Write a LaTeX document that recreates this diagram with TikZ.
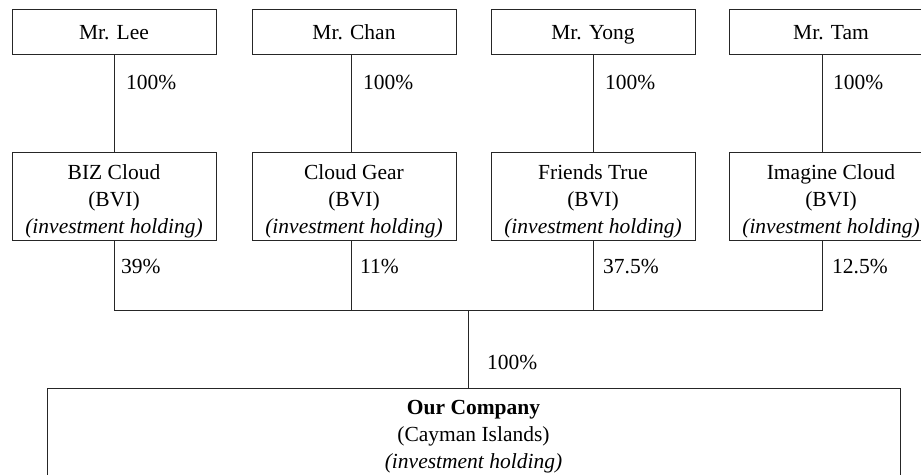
\documentclass[tikz,border=0pt]{standalone}
\usepackage{fontspec}
\setmainfont{Liberation Serif}
\begin{document}
\begin{tikzpicture}[x=1pt,y=-1pt,
  every node/.style={font=\fontsize{21.5}{27}\selectfont},
  box/.style={draw=black!85, line width=0.9pt, minimum width=204pt, inner sep=0pt, align=center},
  topbox/.style={box, minimum height=45pt, text height=20pt, text depth=4pt},
  midbox/.style={box, minimum height=88pt},
  label/.style={inner sep=0pt, align=center},
  link/.style={draw=black!85, line width=0.9pt},
  pct/.style={anchor=west, inner sep=0pt}]
\useasboundingbox (0,0) rectangle (921,474);
\clip (0,0) rectangle (921,474);
% top owners
\node[topbox] (lee)  at (114,31.5) {Mr. Lee};
\node[topbox] (chan) at (354,31.5) {Mr. Chan};
\node[topbox] (yong) at (593,31.5) {Mr. Yong};
\node[topbox] (tam)  at (831,31.5) {Mr. Tam};
% holding companies
\node[midbox] (biz)  at (114,196) {};
\node[midbox] (gear) at (354,196) {};
\node[midbox] (true) at (593,196) {};
\node[midbox] (img)  at (831,196) {};
\node[label] (bizt)  at ([yshift=-5pt]biz.center)  {BIZ Cloud\\(BVI)\\\textit{(investment holding)}};
\node[label] (geart) at ([yshift=-5pt]gear.center) {Cloud Gear\\(BVI)\\\textit{(investment holding)}};
\node[label] (truet) at ([yshift=-5pt]true.center) {Friends True\\(BVI)\\\textit{(investment holding)}};
\node[label] (imgt)  at ([yshift=-5pt]img.center)  {Imagine Cloud\\(BVI)\\\textit{(investment holding)}};
% our company
\node[box, minimum width=853pt, minimum height=90pt] (co) at (473.5,433) {};
\node[label] (cot) at ([yshift=-3.5pt]co.center)
  {\textbf{Our Company}\\(Cayman Islands)\\\textit{(investment holding)}};
% junction
\coordinate (j) at (468,310);
% owner links
\draw[link] (lee.south) -- (biz.north);
\draw[link] ([xshift=-3pt]chan.south) -- ([xshift=-3pt]gear.north);
\draw[link] (yong.south) -- (true.north);
\draw[link] ([xshift=-9pt]tam.south) -- ([xshift=-9pt]img.north);
\node[pct] at (126,82) {100\%};
\node[pct] at (363,82) {100\%};
\node[pct] at (605,82) {100\%};
\node[pct] at (833,82) {100\%};
% links to company
\draw[link] (biz.south) |- (j);
\draw[link] ([xshift=-3pt]gear.south) |- (j);
\draw[link] (true.south) |- (j);
\draw[link] ([xshift=-9pt]img.south) |- (j);
\draw[link] (j) -- (co.north -| j);
\node[pct] at (121,266) {39\%};
\node[pct] at (360,266) {11\%};
\node[pct] at (603,266) {37.5\%};
\node[pct] at (832,266) {12.5\%};
\node[pct] at (487,362) {100\%};
\end{tikzpicture}
\end{document}
